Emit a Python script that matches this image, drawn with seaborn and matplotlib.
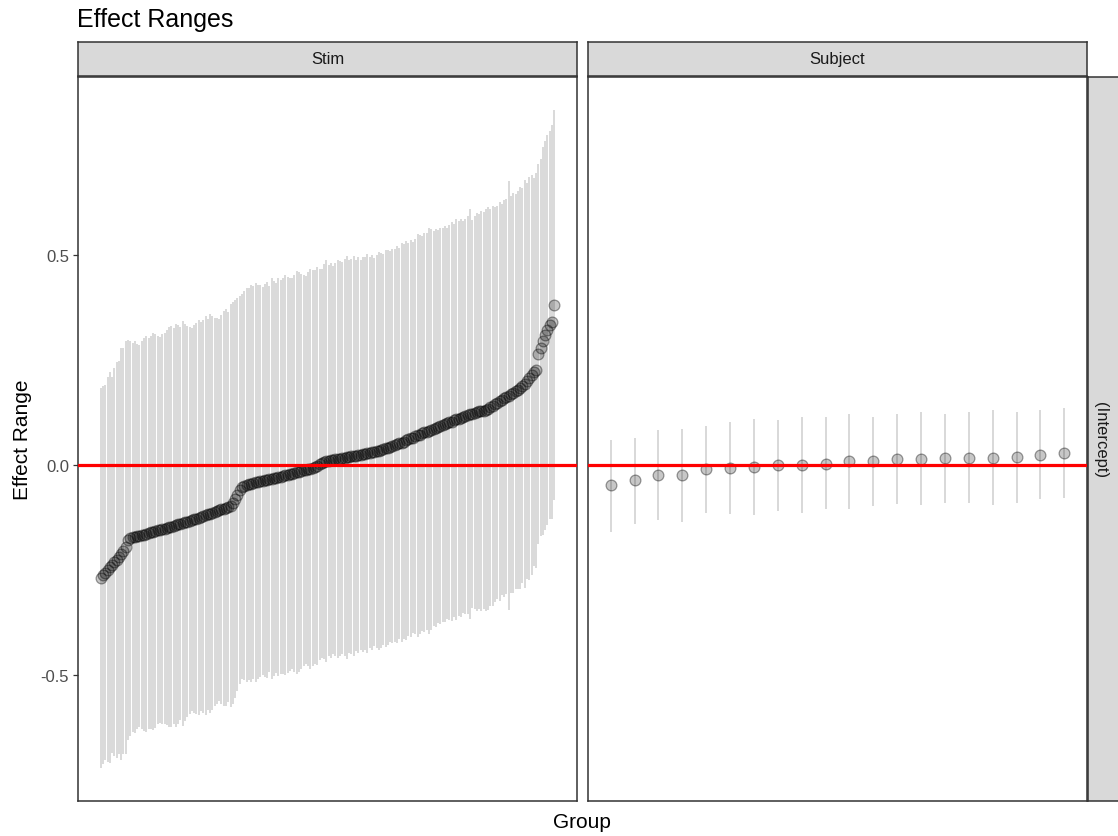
import numpy as np
import pandas as pd
import matplotlib
matplotlib.use("Agg")
import matplotlib.pyplot as plt
import seaborn as sns

# Stim: sorted point estimates and half-widths of the ranges
stim_est = [
    -0.269, -0.262, -0.256, -0.249, -0.243, -0.237, -0.231, -0.225, -0.219, -0.212,
    -0.204, -0.195, -0.178, -0.174, -0.172, -0.171, -0.169, -0.168, -0.166, -0.165,
    -0.163, -0.162, -0.160, -0.158, -0.157, -0.155, -0.154, -0.152, -0.151, -0.149,
    -0.147, -0.146, -0.144, -0.143, -0.141, -0.139, -0.138, -0.136, -0.134, -0.132,
    -0.130, -0.129, -0.127, -0.125, -0.123, -0.121, -0.119, -0.117, -0.115, -0.113,
    -0.111, -0.109, -0.107, -0.105, -0.103, -0.101, -0.099, -0.096, -0.090, -0.081,
    -0.070, -0.058, -0.051, -0.049, -0.047, -0.045, -0.044, -0.042, -0.041, -0.040,
    -0.038, -0.037, -0.036, -0.035, -0.033, -0.032, -0.031, -0.030, -0.028, -0.027,
    -0.026, -0.024, -0.023, -0.022, -0.020, -0.019, -0.017, -0.016, -0.014, -0.012,
    -0.011, -0.009, -0.008, -0.006, -0.004, -0.002, 0.002, 0.005, 0.008, 0.010,
    0.011, 0.012, 0.013, 0.014, 0.015, 0.016, 0.017, 0.018, 0.019, 0.020,
    0.021, 0.022, 0.023, 0.024, 0.025, 0.026, 0.027, 0.028, 0.030, 0.031,
    0.032, 0.033, 0.034, 0.036, 0.038, 0.040, 0.042, 0.044, 0.046, 0.048,
    0.050, 0.052, 0.054, 0.056, 0.059, 0.062, 0.064, 0.066, 0.069, 0.071,
    0.073, 0.076, 0.078, 0.080, 0.082, 0.085, 0.087, 0.089, 0.092, 0.094,
    0.096, 0.098, 0.100, 0.102, 0.104, 0.107, 0.109, 0.111, 0.113, 0.115,
    0.117, 0.119, 0.121, 0.123, 0.125, 0.127, 0.128, 0.129, 0.130, 0.132,
    0.135, 0.138, 0.142, 0.145, 0.149, 0.152, 0.156, 0.159, 0.163, 0.166,
    0.169, 0.172, 0.176, 0.180, 0.184, 0.189, 0.194, 0.200, 0.207, 0.214,
    0.221, 0.226, 0.265, 0.280, 0.296, 0.309, 0.322, 0.334, 0.341, 0.382,
]
stim_hw = [
    0.452, 0.450, 0.446, 0.458, 0.466, 0.447, 0.462, 0.472, 0.468, 0.490,
    0.484, 0.492, 0.476, 0.470, 0.462, 0.466, 0.458, 0.455, 0.463, 0.467,
    0.471, 0.466, 0.468, 0.472, 0.469, 0.462, 0.460, 0.464, 0.466, 0.470,
    0.475, 0.478, 0.471, 0.480, 0.476, 0.468, 0.482, 0.472, 0.465, 0.460,
    0.456, 0.462, 0.465, 0.470, 0.463, 0.468, 0.475, 0.466, 0.474, 0.469,
    0.462, 0.460, 0.455, 0.463, 0.470, 0.472, 0.465, 0.480, 0.478, 0.474,
    0.468, 0.462, 0.458, 0.463, 0.470, 0.466, 0.472, 0.468, 0.475, 0.470,
    0.466, 0.462, 0.467, 0.472, 0.460, 0.478, 0.470, 0.465, 0.474, 0.469,
    0.472, 0.476, 0.471, 0.468, 0.466, 0.473, 0.480, 0.476, 0.470, 0.466,
    0.462, 0.470, 0.476, 0.472, 0.468, 0.474, 0.466, 0.463, 0.470, 0.478,
    0.465, 0.470, 0.462, 0.468, 0.474, 0.470, 0.466, 0.472, 0.480, 0.468,
    0.470, 0.475, 0.466, 0.472, 0.464, 0.470, 0.468, 0.474, 0.466, 0.470,
    0.462, 0.468, 0.474, 0.470, 0.466, 0.472, 0.470, 0.465, 0.470, 0.468,
    0.472, 0.466, 0.474, 0.470, 0.476, 0.468, 0.472, 0.466, 0.470, 0.480,
    0.474, 0.470, 0.476, 0.472, 0.484, 0.478, 0.470, 0.474, 0.468, 0.472,
    0.468, 0.472, 0.466, 0.470, 0.474, 0.468, 0.478, 0.470, 0.474, 0.466,
    0.470, 0.474, 0.488, 0.462, 0.468, 0.474, 0.470, 0.476, 0.472, 0.478,
    0.480, 0.472, 0.476, 0.470, 0.468, 0.474, 0.466, 0.472, 0.470, 0.510,
    0.472, 0.476, 0.470, 0.474, 0.478, 0.470, 0.486, 0.472, 0.480, 0.476,
    0.462, 0.470, 0.452, 0.448, 0.462, 0.462, 0.464, 0.462, 0.468, 0.464,
]

# Subject: 20 groups
subj_est = [-0.047, -0.036, -0.023, -0.023, -0.010, -0.006, -0.003, 0.000, 0.001, 0.004,
            0.009, 0.009, 0.016, 0.016, 0.018, 0.018, 0.018, 0.020, 0.024, 0.029]
subj_lower = [-0.158, -0.141, -0.131, -0.134, -0.113, -0.115, -0.118, -0.109, -0.113, -0.104,
              -0.104, -0.097, -0.093, -0.095, -0.091, -0.091, -0.095, -0.091, -0.081, -0.079]
subj_upper = [0.061, 0.065, 0.083, 0.087, 0.093, 0.103, 0.110, 0.108, 0.116, 0.114,
              0.121, 0.116, 0.121, 0.126, 0.123, 0.126, 0.132, 0.127, 0.132, 0.136]

stim = pd.DataFrame({'est': stim_est, 'hw': stim_hw})
stim['rank'] = np.arange(1, len(stim) + 1)
stim['lower'] = stim['est'] - stim['hw']
stim['upper'] = stim['est'] + stim['hw']

subj = pd.DataFrame({'est': subj_est, 'lower': subj_lower, 'upper': subj_upper})
subj['rank'] = np.arange(1, len(subj) + 1)

sns.set_theme(style="white")
plt.rcParams['font.family'] = ['Liberation Sans', 'DejaVu Sans']

W, H = 1118, 837
fig = plt.figure(figsize=(W / 100, H / 100), dpi=100)

def fx(px):
    return px / W

def fy(py):
    return 1 - py / H

panel_top, panel_bot = 78, 802
ax1 = fig.add_axes([fx(78), fy(panel_bot), fx(499), (panel_bot - panel_top) / H])
ax2 = fig.add_axes([fx(588), fy(panel_bot), fx(499), (panel_bot - panel_top) / H], sharey=ax1)

pt_face = (0.0, 0.0, 0.0, 0.22)
pt_edge = (0.0, 0.0, 0.0, 0.38)

for ax, d, bw in [(ax1, stim, 1.1), (ax2, subj, 1.15)]:
    ax.vlines(d['rank'], d['lower'], d['upper'], color='#D0D0D0', lw=bw, zorder=1)
    sns.scatterplot(data=d, x='rank', y='est', ax=ax, s=60, facecolor=pt_face,
                    edgecolor=pt_edge, linewidth=0.9, zorder=2)
    ax.axhline(0, color='red', lw=2.3, zorder=3)
    ax.margins(x=0.05, y=0.05)
    ax.set_xticks([])
    ax.set_xlabel('')
    ax.set_ylabel('')
    ax.set_facecolor('white')
    for s in ax.spines.values():
        s.set_visible(True)
        s.set_color('#333333')
        s.set_linewidth(1.1)

ax1.set_yticks([-0.5, 0.0, 0.5])
ax1.set_yticklabels(['-0.5', '0.0', '0.5'])
ax1.tick_params(axis='y', left=True, length=3.5, width=0.9, color='#333333',
                labelsize=12, labelcolor='#4D4D4D', pad=3)
ax2.tick_params(axis='y', left=False, labelleft=False)

# strips
for left, label in [(78, 'Stim'), (588, 'Subject')]:
    sax = fig.add_axes([fx(left), fy(77), fx(499), 34 / H])
    sax.set_facecolor('#D9D9D9')
    sax.set_xticks([])
    sax.set_yticks([])
    for s in sax.spines.values():
        s.set_color('#333333')
        s.set_linewidth(1.1)
    sax.text(0.5, 0.5, label, ha='center', va='center', fontsize=12,
             color='#1A1A1A', transform=sax.transAxes)

rax = fig.add_axes([fx(1088), fy(panel_bot), fx(34), (panel_bot - panel_top) / H])
rax.set_facecolor('#D9D9D9')
rax.set_xticks([])
rax.set_yticks([])
for s in rax.spines.values():
    s.set_color('#333333')
    s.set_linewidth(1.1)
fig.text(fx(1100), fy(440), '(Intercept)', rotation=-90, ha='center', va='center',
         fontsize=12, color='#1A1A1A')

fig.text(fx(77), fy(20), 'Effect Ranges', ha='left', va='center', fontsize=18, color='black')
fig.text(fx(582), fy(823), 'Group', ha='center', va='center', fontsize=15, color='black')
fig.text(fx(23), fy(440), 'Effect Range', rotation=90, ha='center', va='center',
         fontsize=15, color='black')

fig.savefig('out.png', dpi=100)
